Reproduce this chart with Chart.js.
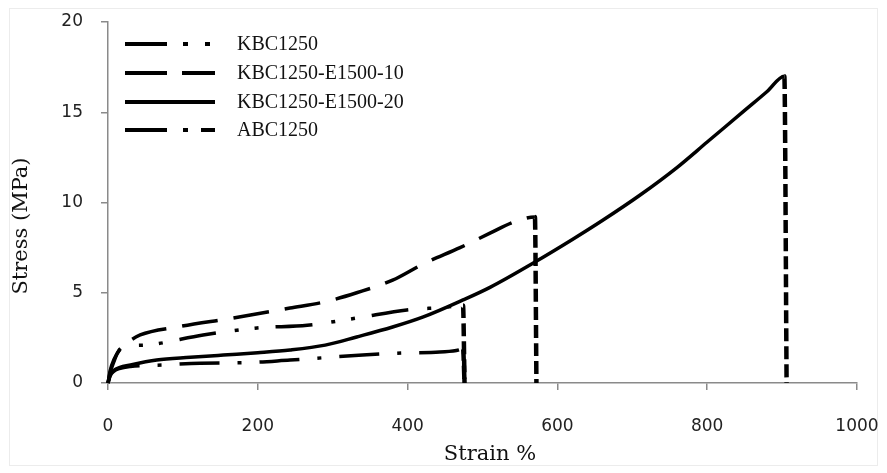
<!DOCTYPE html>
<html>
<head>
<meta charset="utf-8">
<script src="https://cdn.jsdelivr.net/npm/chart.js@4.4.1/dist/chart.umd.min.js"></script>
<style>
  html, body { margin: 0; padding: 0; background: #fff; }
  #wrap { width: 887px; height: 473px; position: relative; }
</style>
</head>
<body>
<div id="wrap"><canvas id="c" width="887" height="473"></canvas></div>
<script>
// series labels
const seriesNames = ['KBC1250', 'KBC1250-E1500-10', 'KBC1250-E1500-20', 'ABC1250'];

// KBC1250 (dash-dot-dot)
const kbcStrain = [0, 3, 8, 13, 20, 49, 127, 199, 266, 332, 399, 452, 474, 476];
const kbcStress = [0, 0.6, 1.2, 1.7, 2.0, 2.1, 2.66, 3.05, 3.2, 3.6, 4.05, 4.2, 4.3, 0];

// KBC1250-E1500-10 (long dash)
const e10Strain = [0, 3, 8, 15, 25, 43, 92, 167, 243, 290, 332, 380, 421, 470, 510, 541, 570, 572];
const e10Stress = [0, 0.7, 1.3, 1.8, 2.2, 2.66, 3.1, 3.6, 4.15, 4.5, 5.0, 5.7, 6.6, 7.5, 8.3, 8.9, 9.2, 0];

// KBC1250-E1500-20 (solid)
const e20Strain = [0, 3, 8, 15, 30, 65, 110, 154, 200, 243, 290, 332, 380, 421, 474, 510, 570, 620, 660, 710, 760, 800, 850, 880, 903, 906];
const e20Stress = [0, 0.45, 0.7, 0.85, 1.0, 1.27, 1.42, 1.55, 1.68, 1.83, 2.1, 2.55, 3.1, 3.66, 4.6, 5.3, 6.7, 7.95, 9.0, 10.4, 11.95, 13.35, 15.1, 16.15, 17.0, 0];

// ABC1250 (dash-dot)
const abcStrain = [0, 3, 8, 15, 30, 73, 123, 180, 243, 340, 394, 443, 470, 474, 476];
const abcStress = [0, 0.4, 0.65, 0.8, 0.92, 1.0, 1.1, 1.12, 1.27, 1.55, 1.66, 1.72, 1.85, 1.95, 0];

// axis ticks
const xTicks = [0, 200, 400, 600, 800, 1000];
const yTicks = [0, 5, 10, 15, 20];

const toPoints = (xs, ys) => xs.map((x, i) => ({ x: x, y: ys[i] }));

const AXIS_GREY = '#8a8a8a';
const DROP_DASH = [13, 5];

function makeSet(label, xs, ys, dash, legendDash) {
    const last = xs.length - 1;
    return {
        label: label,
        data: toPoints(xs, ys),
        borderColor: '#000',
        borderWidth: 3.5,
        borderDash: dash,
        borderCapStyle: 'butt',
        pointRadius: 0,
        cubicInterpolationMode: 'monotone',
        clip: false,
        legendDash: legendDash,
        // the break at the end of each curve is drawn as a heavier short-dash drop
        segment: {
            borderDash: ctx => ctx.p1DataIndex === last ? DROP_DASH : undefined,
            borderWidth: ctx => ctx.p1DataIndex === last ? 4.5 : undefined
        }
    };
}

const datasets = [
    makeSet(seriesNames[0], kbcStrain, kbcStress, [37, 19, 4, 16, 4, 17], [42, 16, 5, 17, 5, 100]),
    makeSet(seriesNames[1], e10Strain, e10Stress, [36, 16], [42, 15, 33, 100]),
    makeSet(seriesNames[2], e20Strain, e20Stress, [], []),
    makeSet(seriesNames[3], abcStrain, abcStress, [40, 18, 4, 18], [42, 16, 5, 13, 14, 100])
];

// legend, axis titles and frame
const extras = {
    id: 'extras',
    beforeDraw(chart) {
        const ctx = chart.ctx;
        ctx.save();
        ctx.strokeStyle = '#ececec';
        ctx.lineWidth = 1;
        ctx.strokeRect(9.5, 8.5, 868, 457);
        ctx.restore();
    },
    afterDraw(chart) {
        const ctx = chart.ctx;
        ctx.save();
        // legend
        const rows = [44, 73, 102, 130];
        chart.data.datasets.forEach((ds, i) => {
            const y = rows[i];
            ctx.beginPath();
            ctx.setLineDash(ds.legendDash);
            ctx.lineCap = 'butt';
            ctx.lineWidth = 4;
            ctx.strokeStyle = '#000';
            ctx.moveTo(125, y);
            ctx.lineTo(215, y);
            ctx.stroke();
            ctx.setLineDash([]);
            ctx.fillStyle = '#111';
            ctx.font = '20px "Liberation Serif"';
            ctx.textBaseline = 'middle';
            ctx.textAlign = 'left';
            ctx.fillText(ds.label, 237, y + 1);
        });
        // axis titles
        ctx.fillStyle = '#111';
        ctx.font = '21px "DejaVu Serif"';
        ctx.textAlign = 'center';
        ctx.textBaseline = 'middle';
        ctx.fillText('Strain %', 490, 455);
        ctx.translate(22, 226);
        ctx.rotate(-Math.PI / 2);
        ctx.fillText('Stress (MPa)', 0, 0);
        ctx.restore();
    }
};

new Chart(document.getElementById('c'), {
    type: 'line',
    data: { datasets: datasets },
    plugins: [extras],
    options: {
        responsive: false,
        animation: false,
        layout: { padding: { top: 22, right: 30, left: 0, bottom: 0 } },
        plugins: { legend: { display: false }, tooltip: { enabled: false } },
        scales: {
            x: {
                type: 'linear',
                min: 0,
                max: 1000,
                afterBuildTicks: s => { s.ticks = xTicks.map(v => ({ value: v })); },
                afterFit: s => { s.height = 90; s.paddingLeft = 0; s.paddingRight = 0; },
                ticks: { color: '#222', padding: 26, font: { family: 'DejaVu Sans', size: 17 }, callback: v => String(v) },
                grid: { drawOnChartArea: false, drawTicks: true, tickLength: 7, color: AXIS_GREY, lineWidth: 1.5 },
                border: { color: AXIS_GREY, width: 1.5 }
            },
            y: {
                type: 'linear',
                min: 0,
                max: 20,
                afterBuildTicks: s => { s.ticks = yTicks.map(v => ({ value: v })); },
                afterFit: s => { s.width = 108; s.paddingTop = 0; s.paddingBottom = 0; },
                ticks: { color: '#222', padding: 18, font: { family: 'DejaVu Sans', size: 17 }, callback: v => String(v) },
                grid: { drawOnChartArea: false, drawTicks: true, tickLength: 7, color: AXIS_GREY, lineWidth: 1.5 },
                border: { color: AXIS_GREY, width: 1.5 }
            }
        }
    }
});
</script>
</body>
</html>
